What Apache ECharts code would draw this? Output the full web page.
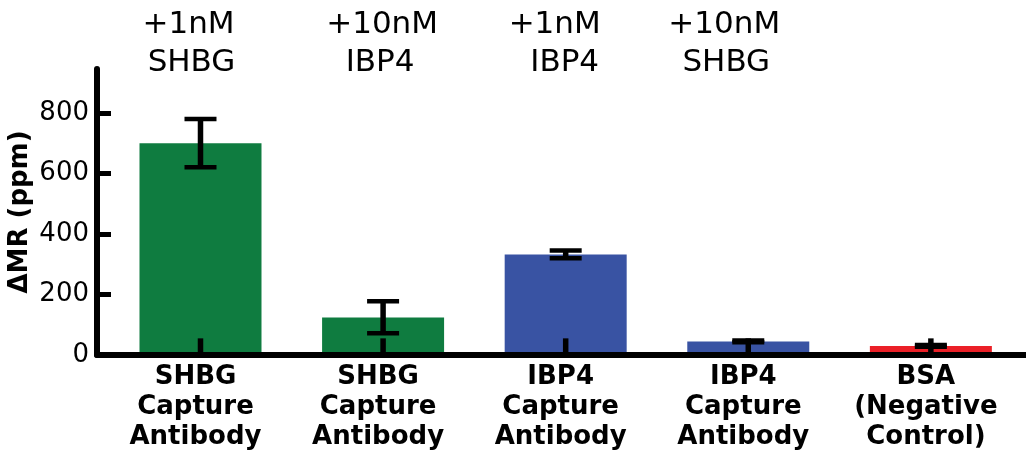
<!DOCTYPE html>
<html>
<head>
<meta charset="utf-8">
<script src="https://cdn.jsdelivr.net/npm/echarts@6/dist/echarts.min.js"></script>
<style>
  html, body { margin: 0; padding: 0; background: #fff; }
  #chart { width: 1026px; height: 452px; }
</style>
</head>
<body>
<div id="chart"></div>
<script>
// Capture antibody groups along the x axis
const categories = [
  'SHBG\nCapture\nAntibody',
  'SHBG\nCapture\nAntibody',
  'IBP4\nCapture\nAntibody',
  'IBP4\nCapture\nAntibody',
  'BSA\n(Negative\nControl)'
];
// Mean response (ppm) and error bar limits
const meanMR = [700, 124, 332, 45, 30];
const errLow = [620, 72, 320, 42, 27];
const errHigh = [780, 178, 345, 48, 33];
// Short whisker rising from the baseline at each bar
const baseWhisker = [55, 55, 55, 55, 55];
// Analyte added to each group (the control has none)
const analyteDose = ['+1nM', '+10nM', '+1nM', '+10nM'];
const analyteName = ['SHBG', 'IBP4', 'IBP4', 'SHBG'];
// Y axis ticks
const yTicks = [0, 200, 400, 600, 800];
const yMax = 945;

const barColors = ['#0F7C40', '#0F7C40', '#3953A3', '#3953A3', '#EB2027'];
// horizontal nudges of the two annotation lines above each bar
const annotNudge = [[-12, -9], [-1, -3], [-11, -1], [-24, -22]];

const FONT = 'DejaVu Sans';
const chart = echarts.init(document.getElementById('chart'), null, { renderer: 'canvas' });

const catIdx = categories.map((_, i) => i);

chart.setOption({
  animation: false,
  backgroundColor: '#fff',
  grid: { left: 97, right: 0, top: 69, bottom: 97, containLabel: false, outerBoundsMode: 'none' },
  xAxis: {
    type: 'value',
    min: -0.5668,
    max: 4.521,
    z: 10,
    splitLine: { show: false },
    axisTick: { show: false },
    axisLine: { show: true, onZero: false, lineStyle: { color: '#000', width: 6 } },
    axisLabel: {
      customValues: catIdx,
      formatter: v => categories[Math.round(v)] || '',
      fontFamily: FONT,
      fontWeight: 'bold',
      fontSize: 26,
      lineHeight: 30,
      color: '#000',
      margin: 7,
      padding: [0, 10, 0, 0]
    }
  },
  yAxis: {
    type: 'value',
    min: 0,
    max: yMax,
    z: 10,
    name: 'ΔMR (ppm)',
    nameLocation: 'middle',
    nameGap: 64,
    nameMoveOverlap: false,
    nameTextStyle: { fontFamily: FONT, fontWeight: 'bold', fontSize: 26, color: '#000' },
    splitLine: { show: false },
    axisLine: { show: true, onZero: false, lineStyle: { color: '#000', width: 6 } },
    axisTick: { show: true, inside: true, length: 14, customValues: yTicks, lineStyle: { color: '#000', width: 5 } },
    axisLabel: {
      customValues: yTicks,
      fontFamily: FONT,
      fontSize: 26,
      color: '#000',
      margin: 8
    }
  },
  series: [
    {
      type: 'bar',
      barWidth: 122,
      z: 2,
      data: meanMR.map((v, i) => ({ value: [i, v], itemStyle: { color: barColors[i] } }))
    },
    {
      type: 'custom',
      z: 3,
      encode: { x: 0, y: [1, 2, 3] },
      data: meanMR.map((_, i) => [i, errHigh[i], errLow[i], baseWhisker[i]]),
      renderItem: function (params, api) {
        const x = api.value(0);
        const hi = api.coord([x, api.value(1)]);
        const lo = api.coord([x, api.value(2)]);
        const b0 = api.coord([x, 0]);
        const b1 = api.coord([x, api.value(3)]);
        const hw = 16;
        const stem = { stroke: '#000', lineWidth: 5.5, fill: null };
        const cap = { stroke: '#000', lineWidth: 4.5, fill: null };
        return {
          type: 'group',
          children: [
            { type: 'line', shape: { x1: hi[0], y1: hi[1], x2: lo[0], y2: lo[1] }, style: stem },
            { type: 'line', shape: { x1: hi[0] - hw, y1: hi[1], x2: hi[0] + hw, y2: hi[1] }, style: cap },
            { type: 'line', shape: { x1: lo[0] - hw, y1: lo[1], x2: lo[0] + hw, y2: lo[1] }, style: cap },
            { type: 'line', shape: { x1: b0[0], y1: b0[1], x2: b1[0], y2: b1[1] }, style: stem }
          ]
        };
      }
    }
  ]
});

// Analyte annotations above the first four groups
const annot = [];
analyteDose.forEach((dose, i) => {
  const cx = chart.convertToPixel({ xAxisIndex: 0 }, i);
  annot.push({
    type: 'text', x: cx + annotNudge[i][0], y: 25,
    style: { text: dose, fontFamily: FONT, fontSize: 31, fill: '#000', textAlign: 'center', textVerticalAlign: 'middle' }
  });
  annot.push({
    type: 'text', x: cx + annotNudge[i][1], y: 63,
    style: { text: analyteName[i], fontFamily: FONT, fontSize: 31, fill: '#000', textAlign: 'center', textVerticalAlign: 'middle' }
  });
});
chart.setOption({ graphic: annot });
</script>
</body>
</html>
